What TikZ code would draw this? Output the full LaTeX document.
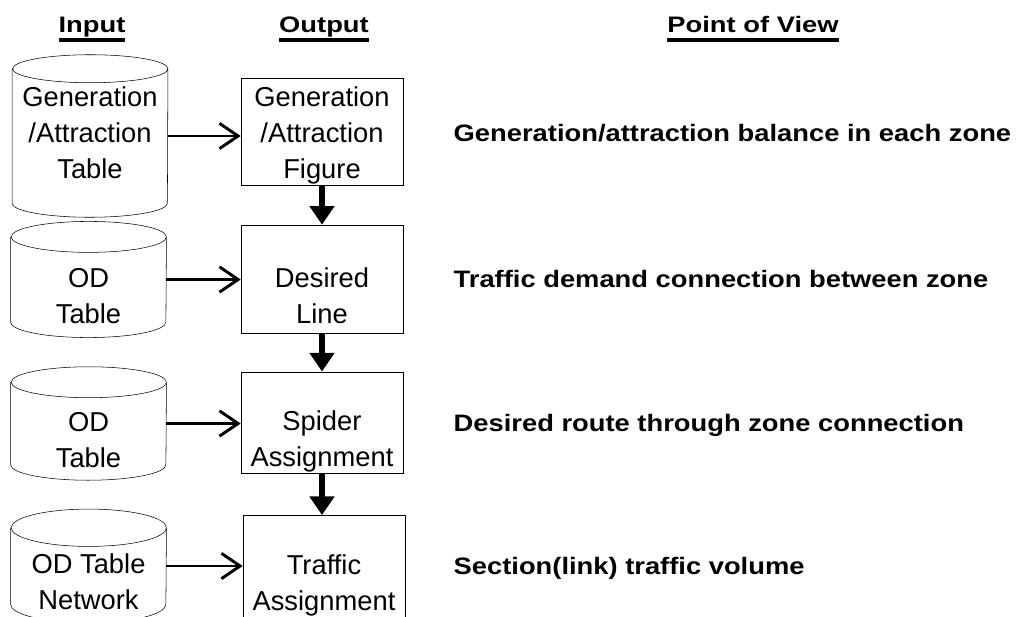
\documentclass[tikz,border=0pt]{standalone}
\usepackage{fontspec}
\usepackage{graphicx}
\setmainfont{Liberation Sans}
\usetikzlibrary{shapes.geometric, arrows.meta, positioning}

% underlined column heading
\newcommand{\headul}[1]{\setbox0=\hbox{\scalebox{1}[0.82]{#1}}\rlap{\rule[-6.75pt]{\wd0}{3pt}}\box0}
% stacked lines, baseline on the first one
\newcommand{\celllines}[1]{\begin{tabular}[t]{@{}c@{}}#1\end{tabular}}
% outline of a data store round a node
\newcommand{\drum}[2]{%
    \draw (#1.north west) -- (#1.south west)
        arc[start angle=180, end angle=360, x radius=58.25pt, y radius=#2]
        -- (#1.north east)
        arc[start angle=0, end angle=360, x radius=58.25pt, y radius=#2];}

\begin{document}
\begin{tikzpicture}[
        x=0.75pt, y=-0.75pt,
        font=\fontsize{20.5}{27}\selectfont,
        db/.style={rectangle, minimum width=116.5pt, inner sep=0pt, text height=12pt, text depth=0pt},
        outbox/.style={rectangle, draw, minimum width=121.5pt, inner sep=0pt, text height=12pt, text depth=0pt},
        head/.style={font=\fontsize{20.5}{24}\selectfont\bfseries, anchor=base},
        view/.style={font=\fontsize{20.5}{24}\selectfont\bfseries, anchor=base west},
        harr/.style={-{Straight Barb[length=14pt, width=19pt]}, line width=2.2pt},
        varr/.style={-{Triangle[length=14pt, width=18pt]}, line width=5pt}
    ]
    \useasboundingbox (0,0) rectangle (1017,617);

    \node[head] (hin) at (92,33) {\headul{Input}};
    \node[head] (hout) at (324,33) {\headul{Output}};
    \node[head] (hview) at (753,33) {\headul{Point of View}};

    % input stores
    \node[db, minimum height=100.5pt, text height=0pt, text depth=43.5pt] (gatab) at (90,136) {\celllines{Generation\\/Attraction\\Table}};
    \node[db, minimum height=63.5pt] (odtab) at (88.5,279.5) {\celllines{OD\\Table}};
    \node[db, minimum height=61.5pt] (odtabb) at (88.5,423.5) {\celllines{OD\\Table}};
    \node[db, minimum height=57pt, text height=10.5pt] (odnet) at (88.5,566) {\celllines{OD Table\\Network}};
    \drum{gatab}{10.5pt}
    \drum{odtab}{11.6pt}
    \drum{odtabb}{11.6pt}
    \drum{odnet}{14pt}

    % outputs
    \node[outbox, minimum height=80pt, text height=0pt, text depth=36.75pt] (gafig) at (322,131.5) {\celllines{Generation\\/Attraction\\Figure}};
    \node[outbox, minimum height=81pt] (desline) at (322,279) {\celllines{Desired\\Line}};
    \node[outbox, minimum height=76pt] (spider) at (322,422.5) {\celllines{Spider\\Assignment}};
    \node[outbox, minimum height=79pt, text height=9pt] (traffic) at (324,568) {\celllines{Traffic\\Assignment}};

    % points of view
    \node[view] (v1) at (449,142) {\scalebox{1}[0.87]{Generation/attraction balance in each zone}};
    \node[view] (v2) at (449,287) {\scalebox{1}[0.87]{Traffic demand connection between zone}};
    \node[view] (v3) at (449,431) {\scalebox{1}[0.87]{Desired route through zone connection}};
    \node[view] (v4) at (449,574) {\scalebox{1}[0.87]{Section(link) traffic volume}};

    \draw[harr] (gatab.east) -- (gatab.east -| gafig.west);
    \draw[harr] (odtab.east) -- (odtab.east -| desline.west);
    \draw[harr] (odtabb.east) -- (odtabb.east -| spider.west);
    \draw[harr] (odnet.east) -- (odnet.east -| traffic.west);

    \draw[varr] (gafig) -- (desline);
    \draw[varr] (desline) -- (spider);
    \draw[varr] (spider.south) -- (spider.south |- traffic.north);

\end{tikzpicture}
\end{document}
